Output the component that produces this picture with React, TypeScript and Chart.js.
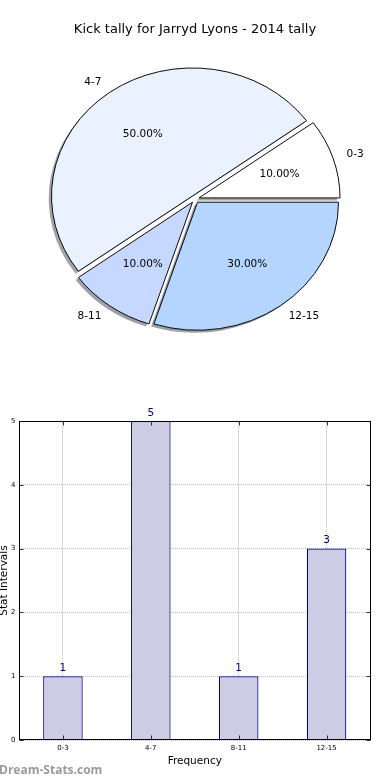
import React, { useEffect, useRef } from "react";
import { Chart, registerables } from "chart.js";

Chart.register(...registerables);

// ---- data ----
const categories = ["0-3", "4-7", "8-11", "12-15"];
const counts = [1, 5, 1, 3];
const pieColors = ["#ffffff", "#eaf1ff", "#c6d8ff", "#b3d5ff"];
const yTickValues = [0, 1, 2, 3, 4, 5];
const pieTitle = "Kick tally for Jarryd Lyons - 2014 tally";
const xAxisTitle = "Frequency";
const yAxisTitle = "Stat Intervals";
const watermarkText = "Dream-Stats.com";

// ---- style ----
const FONT = "'DejaVu Sans', sans-serif";
const KY = 0.908; // vertical squash of the pie (non-equal axes)
const EXPLODE = 0.03; // fraction of radius
const PIE_R = 141;
const GRID = "rgba(0,0,0,0.26)";

function hexToRgb(h: string) {
  const n = parseInt(h.slice(1), 16);
  return [(n >> 16) & 255, (n >> 8) & 255, n & 255];
}

const ellipticPiePlugin = {
  id: "ellipticPie",
  beforeDatasetsDraw(chart: any) {
    const ca = chart.chartArea;
    const cx = (ca.left + ca.right) / 2;
    const cy = (ca.top + ca.bottom) / 2;
    const meta = chart.getDatasetMeta(0);
    const ctx = chart.ctx;
    const colors = chart.data.datasets[0].backgroundColor as string[];
    meta.data.forEach((arc: any) => {
      const mid = (arc.startAngle + arc.endAngle) / 2;
      const d = EXPLODE * arc.outerRadius;
      arc.x = cx + Math.cos(mid) * d;
      arc.y = cy + Math.sin(mid) * d;
    });
    // shadows (below all wedges)
    ctx.save();
    ctx.translate(-2.8, 2.6);
    ctx.translate(cx, cy);
    ctx.scale(1, KY);
    ctx.translate(-cx, -cy);
    meta.data.forEach((arc: any, i: number) => {
      const [r, g, b] = hexToRgb(colors[i]);
      ctx.fillStyle = `rgba(${Math.round(r * 0.3)},${Math.round(g * 0.3)},${Math.round(b * 0.3)},0.5)`;
      ctx.beginPath();
      ctx.moveTo(arc.x, arc.y);
      ctx.arc(arc.x, arc.y, arc.outerRadius, arc.startAngle, arc.endAngle);
      ctx.closePath();
      ctx.fill();
    });
    ctx.restore();
    ctx.save();
    ctx.translate(cx, cy);
    ctx.scale(1, KY);
    ctx.translate(-cx, -cy);
  },
  afterDatasetsDraw(chart: any) {
    const ctx = chart.ctx;
    ctx.restore();
    const ca = chart.chartArea;
    const cx = (ca.left + ca.right) / 2;
    const cy = (ca.top + ca.bottom) / 2;
    const meta = chart.getDatasetMeta(0);
    const values = chart.data.datasets[0].data as number[];
    const total = values.reduce((a, b) => a + b, 0);
    ctx.save();
    ctx.font = `10.5px ${FONT}`;
    ctx.fillStyle = "#000";
    ctx.textBaseline = "middle";
    meta.data.forEach((arc: any, i: number) => {
      const mid = (arc.startAngle + arc.endAngle) / 2;
      const R = arc.outerRadius;
      const d = EXPLODE * R;
      const pos = (f: number) => ({
        x: cx + (d + f * R) * Math.cos(mid),
        y: cy + (d + f * R) * Math.sin(mid) * KY,
      });
      const lp = pos(1.1);
      ctx.textAlign = Math.cos(mid) >= 0 ? "left" : "right";
      ctx.fillText(String(chart.data.labels[i]), lp.x, lp.y);
      const pp = pos(0.6);
      ctx.textAlign = "center";
      ctx.fillText(((values[i] / total) * 100).toFixed(2) + "%", pp.x, pp.y);
    });
    ctx.restore();
  },
};

const framePlugin = {
  id: "frame",
  afterDraw(chart: any) {
    const { ctx, chartArea: ca, scales } = chart;
    ctx.save();
    ctx.strokeStyle = "#000";
    ctx.lineWidth = 1;
    const L = Math.round(ca.left) + 0.5;
    const R = Math.round(ca.right) - 0.5;
    const T = Math.round(ca.top) + 0.5;
    const B = Math.round(ca.bottom) - 0.5;
    ctx.strokeRect(L, T, R - L, B - T);
    ctx.lineWidth = 0.8;
    ctx.beginPath();
    scales.y.ticks.forEach((t: any) => {
      const y = Math.round(scales.y.getPixelForValue(t.value)) + 0.5;
      ctx.moveTo(L, y);
      ctx.lineTo(L + 4, y);
      ctx.moveTo(R, y);
      ctx.lineTo(R - 4, y);
    });
    scales.x.ticks.forEach((t: any, i: number) => {
      const x = Math.round(scales.x.getPixelForTick(i)) + 0.5;
      ctx.moveTo(x, B);
      ctx.lineTo(x, B - 4);
      ctx.moveTo(x, T);
      ctx.lineTo(x, T + 4);
    });
    ctx.stroke();
    ctx.restore();
  },
};

const valueLabelPlugin = {
  id: "valueLabels",
  afterDatasetsDraw(chart: any) {
    const ctx = chart.ctx;
    const meta = chart.getDatasetMeta(0);
    const values = chart.data.datasets[0].data as number[];
    ctx.save();
    ctx.font = `10.5px ${FONT}`;
    ctx.fillStyle = "#000080";
    ctx.textAlign = "center";
    ctx.textBaseline = "alphabetic";
    meta.data.forEach((bar: any, i: number) => {
      ctx.fillText(String(values[i]), bar.x, bar.y - 5.5);
    });
    ctx.restore();
  },
};

export default function App() {
  const pieRef = useRef<HTMLCanvasElement | null>(null);
  const barRef = useRef<HTMLCanvasElement | null>(null);

  useEffect(() => {
    const pieOrder = [...categories.keys()].reverse();
    const pie = new Chart(pieRef.current as HTMLCanvasElement, {
      type: "pie",
      data: {
        labels: pieOrder.map((i) => categories[i]),
        datasets: [
          {
            data: pieOrder.map((i) => counts[i]),
            backgroundColor: pieOrder.map((i) => pieColors[i]),
            borderColor: "#000",
            borderWidth: 1,
            radius: PIE_R,
          } as any,
        ],
      },
      options: {
        animation: false,
        responsive: false,
        events: [],
        rotation: 90,
        layout: { padding: { top: 0, bottom: 19.6, left: 0, right: 0 } },
        plugins: {
          legend: { display: false },
          tooltip: { enabled: false },
          title: {
            display: true,
            text: pieTitle,
            color: "#000",
            font: { family: FONT, size: 13, weight: "normal", lineHeight: 1.2 },
            padding: { top: 22.2, bottom: 0 },
          },
        },
      } as any,
      plugins: [ellipticPiePlugin],
    });

    const bar = new Chart(barRef.current as HTMLCanvasElement, {
      type: "bar",
      data: {
        labels: categories,
        datasets: [
          {
            data: counts,
            backgroundColor: "#ccccE5",
            borderColor: "#000080",
            borderWidth: 1.2,
            barPercentage: 0.45,
            categoryPercentage: 1,
          },
        ],
      },
      options: {
        animation: false,
        responsive: false,
        events: [],
        layout: { padding: { top: 31, right: 19.5, left: 0, bottom: 0 } },
        plugins: { legend: { display: false }, tooltip: { enabled: false } },
        scales: {
          x: {
            offset: true,
            z: 1,
            grid: { offset: false, color: GRID, lineWidth: 1, drawTicks: false },
            border: { display: false, dash: [1, 1] },
            ticks: {
              font: { family: FONT, size: 7 },
              color: "#000",
              padding: 4,
              maxRotation: 0,
              autoSkip: false,
            },
            title: {
              display: true,
              text: xAxisTitle,
              color: "#000",
              font: { family: FONT, size: 10.5, lineHeight: 1.2 },
              padding: { top: 0, bottom: 12.7 },
            },
            afterFit: (s: any) => {
              s.height = 40;
            },
          },
          y: {
            min: 0,
            max: 5,
            z: 1,
            grid: { color: GRID, lineWidth: 1, drawTicks: false },
            border: { display: false, dash: [1, 1] },
            ticks: {
              font: { family: FONT, size: 7 },
              color: "#000",
              padding: 3.5,
              stepSize: 1,
            },
            afterBuildTicks: (s: any) => {
              s.ticks = yTickValues.map((v) => ({ value: v }));
            },
            title: {
              display: true,
              text: yAxisTitle,
              color: "#000",
              font: { family: FONT, size: 10.5, lineHeight: 0.76 },
              padding: 0,
            },
            afterFit: (s: any) => {
              s.width = 19;
            },
          },
        },
      } as any,
      plugins: [valueLabelPlugin, framePlugin],
    });

    return () => {
      pie.destroy();
      bar.destroy();
    };
  }, []);

  return (
    <div style={{ position: "absolute", left: 0, top: 0, width: 390, height: 780, background: "#fff", overflow: "hidden" }}>
      <canvas
        ref={pieRef}
        width={390}
        height={380}
        style={{ position: "absolute", left: 0, top: 0, width: 390, height: 380 }}
      />
      <canvas
        ref={barRef}
        width={390}
        height={390}
        style={{ position: "absolute", left: 0, top: 390, width: 390, height: 390 }}
      />
      <div
        style={{
          position: "absolute",
          left: -1,
          top: 761,
          fontFamily: "'Open Sans', sans-serif",
          fontWeight: 700,
          fontSize: 12,
          lineHeight: "18px",
          color: "#9a9a9a",
          whiteSpace: "nowrap",
        }}
      >
        {watermarkText}
      </div>
    </div>
  );
}
